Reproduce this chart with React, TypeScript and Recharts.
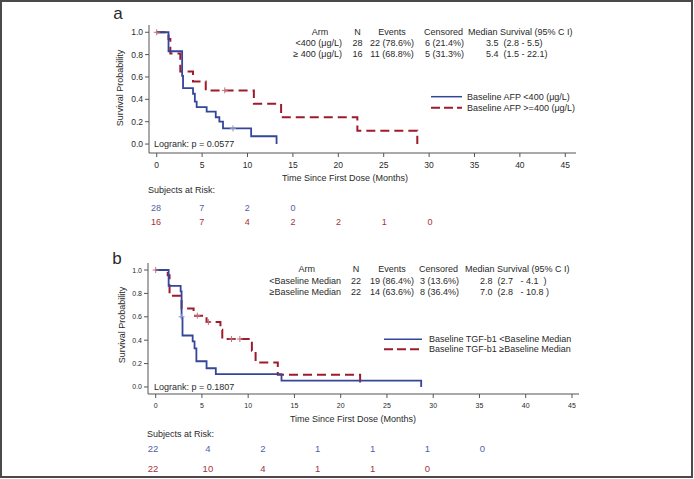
import React from 'react';
import { ComposedChart, Line, Scatter, XAxis, YAxis } from 'recharts';

const FONT = '"Liberation Sans", Arial, Helvetica, sans-serif';
const BLUE = '#34469a';
const RED = '#9e1b2d';
const BLUE_TXT = '#5262a8';
const RED_TXT = '#a3343c';
const INK = '#2a2a2a';

// panel a: baseline AFP
const afpLow = [
  { t: 0, s: 1 }, { t: 1.3, s: 0.83 }, { t: 2.8, s: 0.61 }, { t: 2.9, s: 0.5 },
  { t: 4.0, s: 0.45 }, { t: 4.2, s: 0.38 }, { t: 4.4, s: 0.33 }, { t: 5.5, s: 0.29 },
  { t: 6.5, s: 0.24 }, { t: 6.9, s: 0.2 }, { t: 7.3, s: 0.14 }, { t: 10.4, s: 0.07 },
  { t: 13.2, s: 0 },
];
const afpHigh = [
  { t: 0, s: 1 }, { t: 1.3, s: 0.94 }, { t: 1.5, s: 0.81 }, { t: 2.6, s: 0.65 },
  { t: 4.0, s: 0.56 }, { t: 5.4, s: 0.48 }, { t: 10.7, s: 0.36 }, { t: 13.7, s: 0.24 },
  { t: 22.1, s: 0.12 }, { t: 28.7, s: 0 },
];
const afpLowCens = [{ t: 8.4, s: 0.14 }];
const afpHighCens = [{ t: 0, s: 1 }, { t: 7.5, s: 0.48 }];

// panel b: baseline TGF-b1
const tgfLow = [
  { t: 0, s: 1 }, { t: 1.4, s: 0.864 }, { t: 2.7, s: 0.818 }, { t: 2.8, s: 0.59 },
  { t: 2.9, s: 0.44 }, { t: 4.0, s: 0.39 }, { t: 4.2, s: 0.33 }, { t: 4.4, s: 0.22 },
  { t: 5.5, s: 0.16 }, { t: 6.5, s: 0.11 }, { t: 13.6, s: 0.055 }, { t: 28.7, s: 0 },
];
const tgfHigh = [
  { t: 0, s: 1 }, { t: 1.3, s: 0.955 }, { t: 1.5, s: 0.78 }, { t: 2.8, s: 0.67 },
  { t: 4.1, s: 0.61 }, { t: 5.5, s: 0.555 }, { t: 7.0, s: 0.49 }, { t: 7.2, s: 0.41 },
  { t: 10.4, s: 0.31 }, { t: 10.8, s: 0.21 }, { t: 13.2, s: 0.105 }, { t: 22.1, s: 0 },
];
const tgfLowCens = [{ t: 2.8, s: 0.6 }];
const tgfHighCens = [
  { t: 0, s: 1 }, { t: 4.5, s: 0.61 }, { t: 5.7, s: 0.555 }, { t: 8.2, s: 0.41 }, { t: 9.1, s: 0.41 },
];

const monthTicks = [0, 5, 10, 15, 20, 25, 30, 35, 40, 45];
const probTicks = [0, 0.2, 0.4, 0.6, 0.8, 1];

const riskTimesA = [0, 5, 10, 15, 20, 25, 30];
const riskAfpLow = [28, 7, 2, 0];
const riskAfpHigh = [16, 7, 4, 2, 2, 1, 0];
const riskTimesB = [0, 6, 12, 18, 24, 30, 36];
const riskTgfLow = [22, 4, 2, 1, 1, 1, 0];
const riskTgfHigh = [22, 10, 4, 1, 1, 0];

const statsHeader = ['Arm', 'N', 'Events', 'Censored', 'Median Survival (95% C I)'];
const statsA = [
  ['<400 (μg/L)', '28', '22 (78.6%)', '6 (21.4%)', '3.5  (2.8 - 5.5)'],
  ['≥ 400 (μg/L)', '16', '11 (68.8%)', '5 (31.3%)', '5.4  (1.5 - 22.1)'],
];
const statsB = [
  ['<Baseline Median', '22', '19 (86.4%)', '3 (13.6%)', '2.8  (2.7   - 4.1  )'],
  ['≥Baseline Median', '22', '14 (63.6%)', '8 (36.4%)', '7.0  (2.8   - 10.8 )'],
];

const cross = (color: string) => (p: any) => (
  <path d={`M${p.cx - 3},${p.cy}h6M${p.cx},${p.cy - 3}v6`} stroke={color} strokeWidth={1} fill="none" />
);

const KMPanel = ({ top, margin, yWidth, xDomain, yDomain, tickFont, tickGap, low, high, lowCens, highCens }: any) => {
  const axis = {
    stroke: '#555',
    tickSize: 4,
    tick: { fill: INK, fontSize: tickFont, fontFamily: FONT },
    tickLine: { stroke: '#555' },
  };
  return (
    <div style={{ position: 'absolute', left: 0, top }}>
      <ComposedChart width={694} height={180} margin={margin}>
        <XAxis
          type="number"
          dataKey="t"
          domain={xDomain}
          ticks={monthTicks}
          allowDataOverflow
          height={20}
          tickMargin={tickGap}
          {...axis}
        />
        <YAxis
          type="number"
          dataKey="s"
          domain={yDomain}
          ticks={probTicks}
          allowDataOverflow
          width={yWidth}
          tickMargin={2}
          tickFormatter={(v: number) => v.toFixed(1)}
          {...axis}
        />
        <Line data={high} dataKey="s" type="stepAfter" stroke={RED} strokeWidth={2} strokeDasharray="9 5" dot={false} isAnimationActive={false} />
        <Line data={low} dataKey="s" type="stepAfter" stroke={BLUE} strokeWidth={1.8} dot={false} isAnimationActive={false} />
        <Scatter data={highCens} dataKey="s" shape={cross('#c2707c')} isAnimationActive={false} />
        <Scatter data={lowCens} dataKey="s" shape={cross('#8794c8')} isAnimationActive={false} />
      </ComposedChart>
    </div>
  );
};

const StatsTable = ({ rows, ys, cols }: any) => (
  <g fontSize={9} fill={INK}>
    <text x={cols.arm} y={ys[0]} textAnchor="middle">{statsHeader[0]}</text>
    <text x={cols.n} y={ys[0]} textAnchor="middle">{statsHeader[1]}</text>
    <text x={cols.ev} y={ys[0]} textAnchor="middle">{statsHeader[2]}</text>
    <text x={cols.cen} y={ys[0]}>{statsHeader[3]}</text>
    <text x={cols.med} y={ys[0]} style={{ whiteSpace: 'pre' }}>{statsHeader[4]}</text>
    {rows.map((r: string[], i: number) => (
      <g key={i}>
        <text x={cols.label} y={ys[i + 1]} textAnchor="end">{r[0]}</text>
        <text x={cols.n} y={ys[i + 1]} textAnchor="middle">{r[1]}</text>
        <text x={cols.ev} y={ys[i + 1]} textAnchor="middle">{r[2]}</text>
        <text x={cols.cen + 1} y={ys[i + 1]}>{r[3]}</text>
        <text x={cols.medVal} y={ys[i + 1]} style={{ whiteSpace: 'pre' }}>{r[4]}</text>
      </g>
    ))}
  </g>
);

const RiskRow = ({ values, times, y, x0, step, color, size }: any) => (
  <g fontSize={size} fill={color}>
    {values.map((v: number, i: number) => (
      <text key={i} x={x0 + times[i] * step} y={y} textAnchor="middle">{v}</text>
    ))}
  </g>
);

export default function App() {
  return (
    <div style={{ position: 'absolute', left: 0, top: 0, width: 694, height: 479, background: '#fff', fontFamily: FONT }}>
      <KMPanel
        top={0}
        margin={{ top: 25, right: 118, bottom: 7, left: 0 }}
        yWidth={149}
        xDomain={[-0.85, 46.18]}
        yDomain={[-0.08, 1.065]}
        tickFont={8.5}
        tickGap={5}
        low={afpLow}
        high={afpHigh}
        lowCens={afpLowCens}
        highCens={afpHighCens}
      />
      <KMPanel
        top={240}
        margin={{ top: 23, right: 115, bottom: 6, left: 0 }}
        yWidth={148}
        xDomain={[-0.83, 45.76]}
        yDomain={[-0.06, 1.06]}
        tickFont={7}
        tickGap={5}
        low={tgfLow}
        high={tgfHigh}
        lowCens={tgfLowCens}
        highCens={tgfHighCens}
      />
      <svg width={694} height={479} style={{ position: 'absolute', left: 0, top: 0, pointerEvents: 'none' }} fontFamily={FONT} dominantBaseline="central">
        <rect x={1} y={1} width={691} height={476} fill="none" stroke="#4a4a4a" strokeWidth={2} />

        {/* panel a */}
        <text x={118} y={13} fontSize={17} fill={INK} textAnchor="middle">a</text>
        <text transform="translate(120,88) rotate(-90)" fontSize={9} fill={INK} textAnchor="middle">Survival Probability</text>
        <text x={345} y={178} fontSize={9} fill={INK} textAnchor="middle">Time Since First Dose (Months)</text>
        <text x={154} y={144} fontSize={9} fill={INK}>Logrank: p = 0.0577</text>
        <StatsTable rows={statsA} ys={[32, 43.3, 54]} cols={{ arm: 320, label: 342, n: 357.5, ev: 392, cen: 424, med: 468, medVal: 486 }} />
        <line x1={431} x2={462} y1={96.7} y2={96.7} stroke={BLUE} strokeWidth={1.5} />
        <line x1={431} x2={462} y1={107.7} y2={107.7} stroke={RED} strokeWidth={2} strokeDasharray="9 4" />
        <text x={467} y={96.7} fontSize={9} fill={INK}>Baseline AFP &lt;400 (μg/L)</text>
        <text x={467} y={107.7} fontSize={9} fill={INK}>Baseline AFP &gt;=400 (μg/L)</text>
        <text x={148} y={190} fontSize={9} fill={INK}>Subjects at Risk:</text>
        <RiskRow values={riskAfpLow} times={riskTimesA} y={208} x0={156} step={9.13} color={BLUE_TXT} size={9} />
        <RiskRow values={riskAfpHigh} times={riskTimesA} y={222} x0={156} step={9.13} color={RED_TXT} size={9} />

        {/* panel b */}
        <text x={117} y={258} fontSize={17} fill={INK} textAnchor="middle">b</text>
        <text transform="translate(122,325) rotate(-90)" fontSize={9} fill={INK} textAnchor="middle">Survival Probability</text>
        <text x={353} y={419} fontSize={9} fill={INK} textAnchor="middle">Time Since First Dose (Months)</text>
        <text x={154} y={387} fontSize={9} fill={INK}>Logrank: p = 0.1807</text>
        <StatsTable rows={statsB} ys={[269, 280.5, 291.5]} cols={{ arm: 306.7, label: 341, n: 356, ev: 392, cen: 419, med: 465, medVal: 480 }} />
        <line x1={384} x2={422} y1={339.3} y2={339.3} stroke={BLUE} strokeWidth={1.5} />
        <line x1={384} x2={422} y1={349.3} y2={349.3} stroke={RED} strokeWidth={2} strokeDasharray="9 4" />
        <text x={429} y={339.3} fontSize={9} fill={INK}>Baseline TGF-b1 &lt;Baseline Median</text>
        <text x={429} y={349.3} fontSize={9} fill={INK}>Baseline TGF-b1 ≥Baseline Median</text>
        <text x={147} y={434} fontSize={9} fill={INK}>Subjects at Risk:</text>
        <RiskRow values={riskTgfLow} times={riskTimesB} y={448} x0={153} step={9.15} color={BLUE_TXT} size={9.5} />
        <RiskRow values={riskTgfHigh} times={riskTimesB} y={468} x0={153} step={9.15} color={RED_TXT} size={9.5} />
      </svg>
    </div>
  );
}
